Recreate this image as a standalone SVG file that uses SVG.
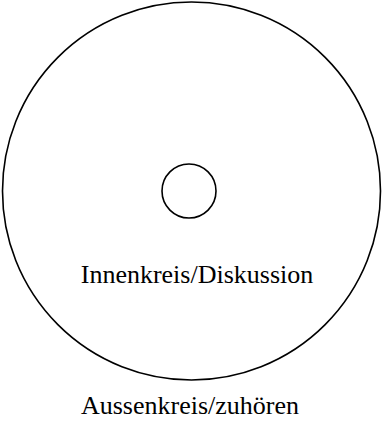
<svg xmlns="http://www.w3.org/2000/svg" width="382" height="423" viewBox="0 0 382 423">
<style>
.c{fill:none;stroke:#000;stroke-width:1.6}
.t{font-family:"Liberation Serif",serif;font-size:26px;fill:#000;text-anchor:middle}
</style>
<rect width="382" height="423" fill="#fff"/>
<g id="outer-circle"><circle class="c" cx="191.5" cy="191" r="189"/></g>
<g id="inner-circle"><circle class="c" cx="189" cy="191" r="27"/></g>
<g id="label-inner"><text class="t" x="197" y="283">Innenkreis/Diskussion</text></g>
<g id="label-outer"><text class="t" x="190" y="414">Aussenkreis/zuhören</text></g>
<g id="connectors"></g>
</svg>
